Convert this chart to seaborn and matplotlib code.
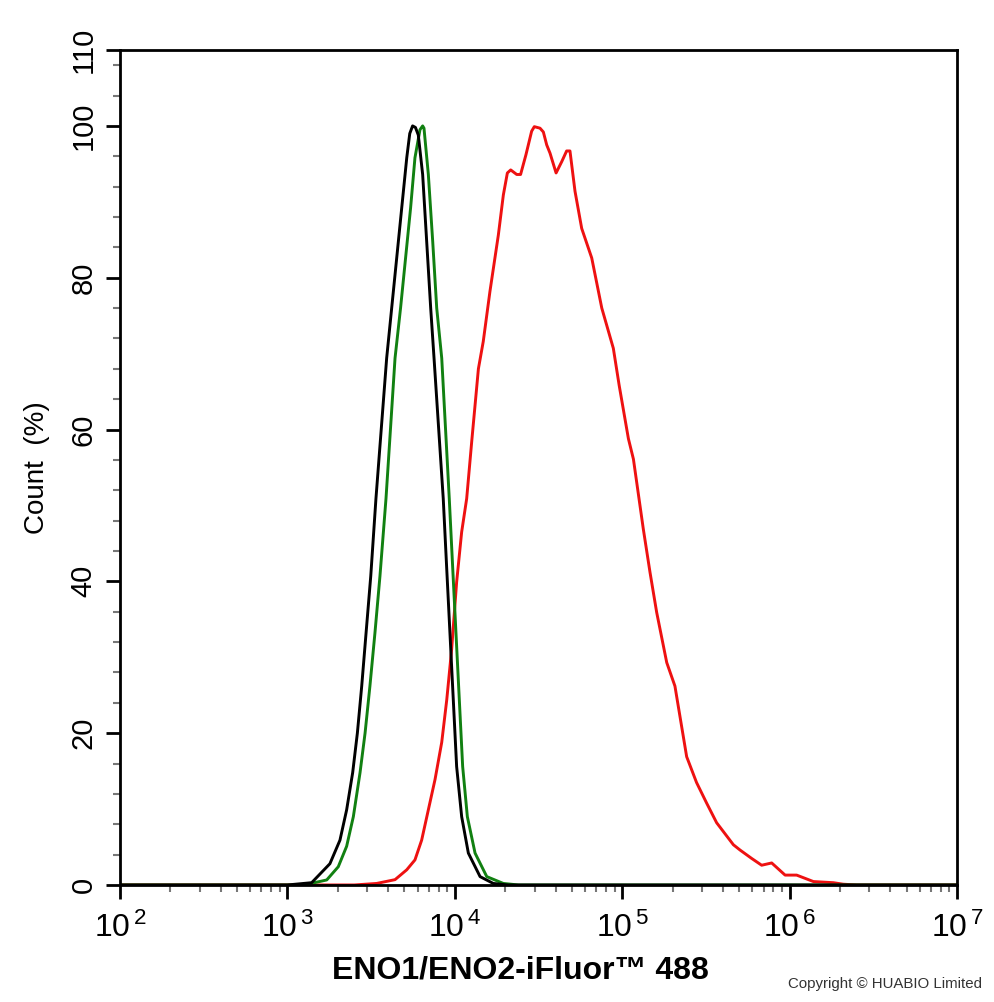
import numpy as np
import pandas as pd
import matplotlib as mpl
from matplotlib import pyplot as plt
from matplotlib import ticker
import seaborn as sns

sns.set_style("ticks")
plt.rcParams['font.family'] = ['Liberation Sans', 'DejaVu Sans']
plt.rcParams['mathtext.fontset'] = 'custom'
plt.rcParams['mathtext.rm'] = 'Liberation Sans'
plt.rcParams['text.color'] = 'black'
plt.rcParams['axes.labelcolor'] = 'black'
plt.rcParams['xtick.color'] = 'black'
plt.rcParams['ytick.color'] = 'black'

# log10 of fluorescence intensity, count in %
black_log = [2.0, 3.0, 3.145, 3.254, 3.314, 3.354, 3.390, 3.418, 3.444, 3.470, 3.498, 3.529,
             3.593, 3.623, 3.653, 3.683, 3.713, 3.731, 3.748, 3.765, 3.782, 3.808, 3.832, 3.856, 3.876,
             3.931, 3.951, 3.971, 3.991, 4.011, 4.041, 4.081, 4.151, 4.230, 4.32, 7.0]
black_cnt = [0, 0, 0.3, 2.8, 5.9, 9.9, 14.8, 20.0, 26.2, 33.2, 40.7, 50.9,
             69.4, 76.0, 82.6, 89.2, 95.8, 99.0, 100, 99.8, 98.8, 93.6, 84.8, 76.0, 69.4,
             50.9, 42.0, 33.2, 24.4, 15.6, 9.0, 4.2, 1.1, 0.2, 0, 0]

green_log = [2.0, 3.1, 3.235, 3.304, 3.354, 3.394, 3.434, 3.464, 3.493, 3.523, 3.553, 3.589,
             3.643, 3.676, 3.706, 3.736, 3.762, 3.792, 3.808, 3.816, 3.842, 3.868, 3.892, 3.922,
             3.967, 3.987, 4.007, 4.027, 4.047, 4.075, 4.121, 4.191, 4.290, 4.38, 7.0]
green_cnt = [0, 0, 0.66, 2.4, 5.1, 9.0, 14.8, 20.0, 26.2, 33.2, 40.7, 50.9,
             69.4, 76.0, 82.6, 89.2, 95.8, 99.5, 100, 99.7, 93.6, 84.8, 76.0, 69.4,
             50.9, 42.0, 33.2, 24.4, 15.6, 9.0, 4.2, 1.1, 0.2, 0, 0]

red_log = [2.0, 3.40, 3.533, 3.643, 3.713, 3.762, 3.802, 3.842, 3.882, 3.922, 3.952, 3.981,
           4.011, 4.041, 4.071, 4.101, 4.141, 4.170, 4.210, 4.260, 4.290, 4.314, 4.334, 4.370,
           4.393, 4.425, 4.459, 4.475, 4.509, 4.529, 4.549, 4.569, 4.605, 4.639, 4.668, 4.688,
           4.718, 4.758, 4.818, 4.838, 4.878, 4.947, 4.982, 5.037, 5.067, 5.126, 5.166, 5.206,
           5.266, 5.315, 5.385, 5.444, 5.504, 5.564, 5.664, 5.704, 5.773, 5.833, 5.893, 5.973,
           6.042, 6.142, 6.261, 6.32, 6.40, 7.0]
red_cnt = [0, 0, 0.2, 0.7, 2.0, 3.3, 5.9, 9.9, 13.9, 18.8, 24.4, 31,
           39.9, 46.5, 50.9, 58.4, 68, 71.6, 78.2, 85.6, 90.9, 93.8, 94.2, 93.6,
           93.6, 96.2, 99.3, 99.9, 99.7, 99.2, 97.5, 96.4, 93.8, 95.3, 96.7, 96.7,
           91.4, 86.5, 82.6, 80.4, 76, 70.7, 65.8, 58.8, 56.1, 46.9, 41.2, 35.9,
           29.3, 26.2, 16.9, 13.5, 10.8, 8.2, 5.3, 4.6, 3.5, 2.6, 2.9, 1.3,
           1.3, 0.45, 0.3, 0.1, 0, 0]

series = {'red': (red_log, red_cnt), 'green': (green_log, green_cnt), 'black': (black_log, black_cnt)}
df = pd.concat([pd.DataFrame({'intensity': 10 ** np.array(lg), 'count': cnt, 'sample': name})
                for name, (lg, cnt) in series.items()], ignore_index=True)

fig = plt.figure(figsize=(9.94, 10.02), dpi=100)
ax = fig.add_axes([0.1207, 0.1168, 0.8421, 0.8333])

palette = {'red': '#ee1111', 'green': '#118011', 'black': '#000000'}
g = sns.lineplot(data=df, x='intensity', y='count', hue='sample', palette=palette,
                 hue_order=['red', 'green', 'black'], estimator=None, sort=False,
                 linewidth=2.1, legend=False, ax=ax)

g.set_xscale('log')
g.set_xlim(1e2, 1e7)
g.set_ylim(0, 110)

g.xaxis.set_major_locator(ticker.LogLocator(base=10, numticks=10))
g.xaxis.set_minor_locator(ticker.LogLocator(base=10, subs=np.arange(2, 10), numticks=20))
g.xaxis.set_minor_formatter(ticker.NullFormatter())
g.xaxis.set_major_formatter(ticker.FuncFormatter(
    lambda v, pos: r'$\mathregular{10^{\,%d}}$' % round(np.log10(v))))

g.set_yticks([0, 20, 40, 60, 80, 100, 110])
g.yaxis.set_minor_locator(ticker.MultipleLocator(4))

for s in g.spines.values():
    s.set_linewidth(2.0)
    s.set_color('black')

g.tick_params(axis='both', which='major', length=10, width=2.0, color='black', direction='out')
g.tick_params(axis='both', which='minor', length=5, width=1.5, color='#777777', direction='out')
g.tick_params(axis='x', which='major', pad=10, labelsize=23)
g.tick_params(axis='y', which='major', pad=6, labelsize=21)
for lab in g.get_yticklabels():
    lab.set_rotation(90)
    lab.set_va('center')

g.set_xlabel('ENO1/ENO2-iFluor\u2122 488', fontsize=23, fontweight='bold')
g.xaxis.set_label_coords(0.478, -0.085)
g.set_ylabel('Count  (%)', fontsize=20, labelpad=14)

fig.text(0.988, 0.011, 'Copyright \u00a9 HUABIO Limited', fontsize=10.8, color='#333333',
         ha='right', va='bottom')

fig.savefig('out.png', dpi=100)
